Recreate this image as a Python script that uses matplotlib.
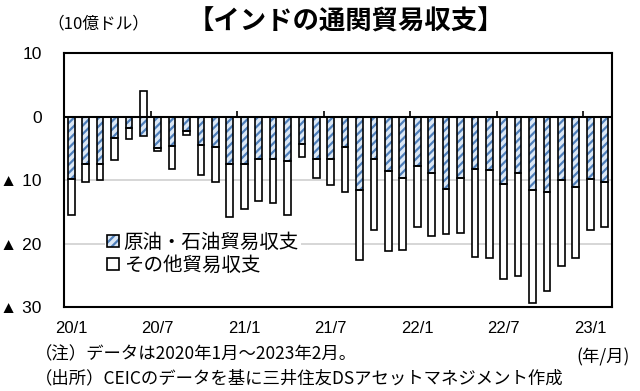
import numpy as np
import matplotlib
matplotlib.use("Agg")
import matplotlib.pyplot as plt

plt.rcParams['font.family'] = ['Noto Sans CJK JP', 'DejaVu Sans']

# Monthly data, 2020/1 - 2023/2 (unit: 1 billion USD)
months = ["20/1", "20/2", "20/3", "20/4", "20/5", "20/6", "20/7", "20/8", "20/9", "20/10", "20/11", "20/12",
          "21/1", "21/2", "21/3", "21/4", "21/5", "21/6", "21/7", "21/8", "21/9", "21/10", "21/11", "21/12",
          "22/1", "22/2", "22/3", "22/4", "22/5", "22/6", "22/7", "22/8", "22/9", "22/10", "22/11", "22/12",
          "23/1", "23/2"]
oil = [-9.8, -7.4, -7.5, -3.3, -1.8, -3.0, -4.9, -4.6, -2.2, -4.5, -4.7, -7.4,
       -7.4, -6.6, -6.6, -7.0, -4.2, -6.6, -6.7, -4.8, -11.5, -6.7, -8.6, -9.7,
       -7.7, -8.9, -11.4, -9.7, -8.2, -8.4, -10.5, -8.9, -11.5, -11.8, -9.9, -11.1,
       -9.8, -10.2]
other = [-5.7, -2.9, -2.5, -3.5, -1.7, 4.0, -0.5, -3.6, -0.7, -4.7, -5.6, -8.4,
         -7.1, -6.6, -7.0, -8.4, -2.2, -3.0, -4.0, -7.0, -11.1, -11.1, -12.6, -11.3,
         -9.7, -9.8, -7.1, -8.6, -13.9, -13.9, -15.1, -16.1, -17.8, -15.7, -13.6, -11.1,
         -8.0, -7.1]
label_months = ["20/1", "20/7", "21/1", "21/7", "22/1", "22/7", "23/1"]
yticks = [10, 0, -10, -20, -30]

oil_a = np.array(oil)
other_a = np.array(other)
x = np.arange(len(months))
other_bottom = np.where(other_a < 0, oil_a, 0)

fig = plt.figure(figsize=(6.4, 3.91), dpi=100)
ax = fig.add_axes([0.1, 0.214, 0.856, 0.6495])

w = 0.46
hatch_blue = '#4f7fba'
plt.rcParams['hatch.linewidth'] = 1.6
b1 = ax.bar(x, oil_a, width=w, bottom=0, facecolor='#dce8f5', edgecolor=hatch_blue,
            hatch='////', linewidth=0, zorder=3)
b1o = ax.bar(x, oil_a, width=w, bottom=0, fill=False, edgecolor='black', linewidth=1.2, zorder=4)
b2 = ax.bar(x, other_a, width=w, bottom=other_bottom, facecolor='white', edgecolor='black',
            linewidth=1.2, zorder=3)

ax.set_xlim(-0.5, len(months) - 0.5)
ax.set_ylim(-30, 10)

for v in [-10, -20]:
    ax.axhline(v, color='#d0d0d0', lw=1.2, zorder=1)
ax.axhline(0, color='black', lw=1.5, zorder=5)
ax.vlines(np.arange(5.5, len(months), 6), 0, 0.9, color='black', lw=1.2, zorder=5)

for s in ax.spines.values():
    s.set_linewidth(1.5)
    s.set_color('black')

ax.set_yticks(yticks)
ax.set_yticklabels([("▲ " + str(-v)) if v < 0 else str(v) for v in yticks],
                   family=['Liberation Sans', 'DejaVu Sans'], fontsize=12.5)
ax.tick_params(axis='y', length=0, pad=16)
ax.set_xticks([months.index(m) for m in label_months])
ax.set_xticklabels(label_months, family=['Liberation Sans', 'DejaVu Sans'], fontsize=12)
ax.tick_params(axis='x', length=0, pad=10)

leg = ax.legend([(b1[0], b1o[0]), b2[0]], ["原油・石油貿易収支", "その他貿易収支"],
                loc='upper left', bbox_to_anchor=(0.075, 0.305), frameon=True,
                fontsize=14, handlelength=0.6, handleheight=0.6, handletextpad=0.25,
                labelspacing=0.12, borderpad=0.1, borderaxespad=0)
leg.get_frame().set_facecolor('white')
leg.get_frame().set_edgecolor('none')
leg.get_frame().set_alpha(1)
leg.set_zorder(6)

fig.text(0.54, 0.943, "【インドの通関貿易収支】", ha='center', va='center',
         fontsize=19, fontweight='bold')
fig.text(0.153, 0.940, "（10億ドル）", ha='center', va='center', fontsize=12)
fig.text(0.055, 0.093, "（注）データは2020年1月～2023年2月。", ha='left', va='center', fontsize=12.5)
fig.text(0.055, 0.033, "（出所）CEICのデータを基に三井住友DSアセットマネジメント作成", ha='left',
         va='center', fontsize=12.5)
fig.text(0.943, 0.087, "(年/月)", ha='center', va='center', fontsize=12.5)

fig.savefig("out.png", dpi=100)
